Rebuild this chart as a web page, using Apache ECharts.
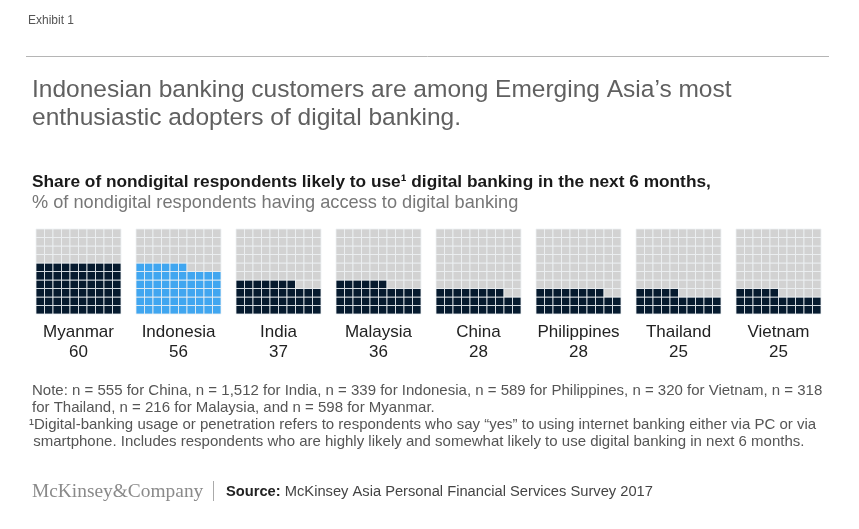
<!DOCTYPE html>
<html>
<head>
<meta charset="utf-8">
<script src="https://cdn.jsdelivr.net/npm/echarts@6/dist/echarts.min.js"></script>
<style>
html,body{margin:0;padding:0;background:#fff;}
#main{width:859px;height:529px;}
</style>
</head>
<body>
<div id="main"></div>
<script>
var countries = ['Myanmar', 'Indonesia', 'India', 'Malaysia', 'China', 'Philippines', 'Thailand', 'Vietnam'];
var shares = [60, 56, 37, 36, 28, 28, 25, 25];
var highlight = 'Indonesia';

var FONT = '"Liberation Sans", Arial, sans-serif';

var myChart = echarts.init(document.getElementById('main'));

var grids = [], xAxes = [], yAxes = [], series = [], titles = [];

function txt(text, left, top, style, align) {
  var t = { text: text, left: left, top: top, padding: 0, textStyle: style };
  if (align) t.textAlign = align;
  titles.push(t);
}

txt('Exhibit 1', 28, 15, { fontFamily: FONT, fontSize: 12, fontWeight: 'normal', color: '#555' });
txt('Indonesian banking customers are among Emerging Asia\u2019s most\nenthusiastic adopters of digital banking.', 32, 76,
  { fontFamily: FONT, fontSize: 24.5, fontWeight: 'normal', color: '#606060', lineHeight: 28 });
txt('Share of nondigital respondents likely to use\u00b9 digital banking in the next 6 months,', 32, 174,
  { fontFamily: FONT, fontSize: 17.3, fontWeight: 'bold', color: '#1a1a1a' });
txt('% of nondigital respondents having access to digital banking', 32, 194,
  { fontFamily: FONT, fontSize: 18.2, fontWeight: 'normal', color: '#777' });

countries.forEach(function (name, i) {
  var left = 36 + 100 * i;
  grids.push({ left: left, top: 229, width: 85, height: 85 });
  xAxes.push({ gridIndex: i, type: 'value', min: 0, max: 10, show: false });
  yAxes.push({ gridIndex: i, type: 'value', min: 0, max: 10, show: false });
  var cells = [];
  for (var r = 0; r < 10; r++) {
    for (var c = 0; c < 10; c++) {
      cells.push([c, r, (r * 10 + c) < shares[i] ? 1 : 0]);
    }
  }
  var fill = name === highlight ? '#40a6f0' : '#061a2e';
  series.push({
    type: 'custom',
    xAxisIndex: i,
    yAxisIndex: i,
    data: cells,
    silent: true,
    renderItem: function (params, api) {
      var p = api.coord([api.value(0), api.value(1) + 1]);
      var s = api.size([1, 1]);
      return {
        type: 'rect',
        shape: { x: p[0], y: p[1], width: s[0], height: s[1] },
        style: { fill: api.value(2) ? fill : '#d2d2d2', stroke: '#eef1f4', lineWidth: 0.8 }
      };
    }
  });
  txt(name, left + 42.5, 324, { fontFamily: FONT, fontSize: 17, fontWeight: 'normal', color: '#222' }, 'center');
  txt(String(shares[i]), left + 42.5, 344, { fontFamily: FONT, fontSize: 17, fontWeight: 'normal', color: '#222' }, 'center');
});

txt('Note: n = 555 for China, n = 1,512 for India, n = 339 for Indonesia, n = 589 for Philippines, n = 320 for Vietnam, n = 318\nfor Thailand, n = 216 for Malaysia, and n = 598 for Myanmar.',
  32, 382, { fontFamily: FONT, fontSize: 15, fontWeight: 'normal', color: '#555', lineHeight: 17 });
txt('\u00b9Digital-banking usage or penetration refers to respondents who say \u201cyes\u201d to using internet banking either via PC or via\n smartphone. Includes respondents who are highly likely and somewhat likely to use digital banking in next 6 months.',
  29, 416, { fontFamily: FONT, fontSize: 15, fontWeight: 'normal', color: '#555', lineHeight: 17 });
txt('McKinsey&Company', 32, 482,
  { fontFamily: '"Liberation Serif", "DejaVu Serif", serif', fontSize: 19.4, fontWeight: 'normal', color: '#8a8a8a' });
titles.push({ text: '{b|Source:} McKinsey Asia Personal Financial Services Survey 2017', left: 226, top: 484, padding: 0,
  textStyle: { fontFamily: FONT, fontSize: 14.7, fontWeight: 'normal', color: '#444',
    rich: { b: { fontFamily: FONT, fontSize: 14.7, fontWeight: 'bold', color: '#222' } } } });

var option = {
  backgroundColor: '#fff',
  animation: false,
  title: titles,
  grid: grids,
  xAxis: xAxes,
  yAxis: yAxes,
  series: series,
  graphic: [
    { type: 'line', shape: { x1: 26, y1: 56.5, x2: 829, y2: 56.5 }, style: { stroke: '#b5b5b5', lineWidth: 1 } },
    { type: 'line', shape: { x1: 213.5, y1: 481, x2: 213.5, y2: 501 }, style: { stroke: '#aaa', lineWidth: 1 } }
  ]
};

myChart.setOption(option);
</script>
</body>
</html>
